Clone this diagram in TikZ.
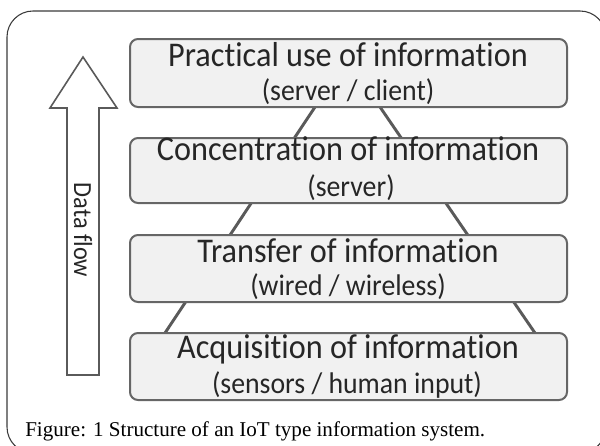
\documentclass[tikz,border=0pt]{standalone}
\usepackage{fontspec}
\newfontfamily\boxfont[FakeStretch=0.93,Ligatures={NoCommon,NoRare,NoContextual},Contextuals=NoAlternate]{Carlito}
\newfontfamily\capfont{Liberation Serif}
\definecolor{boxfill}{HTML}{F1F1F1}
\definecolor{boxline}{HTML}{666666}
\definecolor{pyrline}{HTML}{5A5A5A}
\definecolor{txt}{HTML}{262626}
\definecolor{framec}{HTML}{3A3A3A}
\begin{document}
\begin{tikzpicture}[x=0.75pt,y=-0.75pt,
  layerbox/.style={draw=boxline, line width=1.5pt, fill=boxfill, rounded corners=6pt,
    minimum width=327.75pt, minimum height=50.25pt, inner sep=0pt},
  ttl/.style={anchor=base, inner sep=0pt, text=txt, font=\boxfont\fontsize{26}{30}\selectfont},
  sub/.style={anchor=base, inner sep=0pt, text=txt, font=\boxfont\fontsize{22.4}{26}\selectfont},
  pyr/.style={draw=pyrline, line width=2.2pt},
  flowarrow/.style={draw=pyrline, line width=1.2pt, fill=white, line join=miter},
  flowtxt/.style={rotate=-90, inner sep=0pt, text=txt, font=\boxfont\fontsize{19.6}{22}\selectfont},
  captxt/.style={anchor=base west, inner sep=0pt, text=black, font=\capfont\fontsize{15.8}{18}\selectfont}]
\useasboundingbox (0,0) rectangle (600,446);
% outer frame
\begin{scope}
  \clip (0,0) rectangle (600,446);
  \draw[draw=framec, line width=0.8pt, rounded corners=19.5pt] (7,11) rectangle (606,453);
\end{scope}
% pyramid outline behind the layers
\coordinate (pl1) at (315,107);
\coordinate (pl2) at (165,333);
\coordinate (pr1) at (380,107);
\coordinate (pr2) at (535,333);
\draw[pyr] (pl1) -- (pl2);
\draw[pyr] (pr1) -- (pr2);
% layers
\node[layerbox, minimum height=51pt] (b1) at (348.5,73) {};
\node[layerbox, minimum height=48.75pt] (b2) at (348.5,170.5) {};
\node[layerbox] (b3) at (348.5,268.5) {};
\node[layerbox] (b4) at (348.5,366.5) {};
\node[ttl] (t1) at (348,66) {Practical use of information};
\node[sub] (s1) at (348,100) {(server / client)};
\node[ttl] (t2) at (348,160) {Concentration of information};
\node[sub] (s2) at (351,196) {(server)};
\node[ttl] (t3) at (348,262) {Transfer of information};
\node[sub] (s3) at (348,295) {(wired / wireless)};
\node[ttl] (t4) at (348,358) {Acquisition of information};
\node[sub] (s4) at (347,393) {(sensors / human input)};
% data flow arrow
\draw[flowarrow] (67,375) -- (67,108) -- (50,108) -- (83,57) -- (117,108) -- (99,108) -- (99,375) -- cycle;
\node[flowtxt] (df) at (83,230) {Data flow};
% caption
\node[captxt] (cap) at (25,436) {Figure: 1 Structure of an IoT type information system.};
\end{tikzpicture}
\end{document}
